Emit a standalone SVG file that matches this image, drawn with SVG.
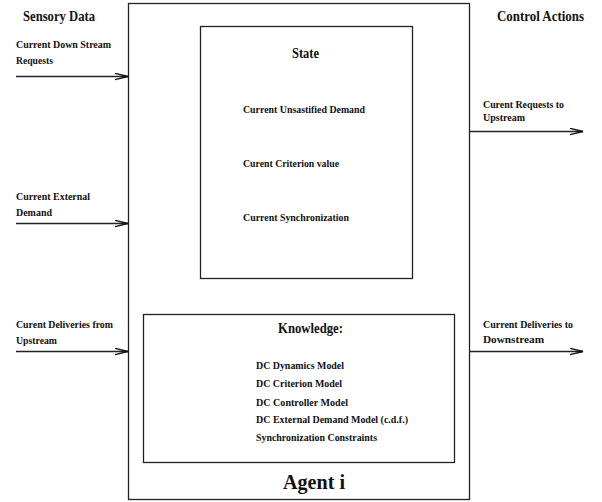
<svg xmlns="http://www.w3.org/2000/svg" width="602" height="502" viewBox="0 0 602 502">
<style>
text{font-family:"Liberation Serif","Times New Roman",serif;font-weight:bold;fill:#111}
.s{font-size:11px}
.h{font-size:15px}
.box{fill:none;stroke:#222;stroke-width:1.3}
.ln{stroke:#222;stroke-width:1.3;fill:none}
</style>
<defs>
<marker id="ah" markerWidth="14" markerHeight="8" refX="13" refY="4" orient="auto" markerUnits="userSpaceOnUse">
<path d="M0,0.8 L13,4 L0,7.2" fill="none" stroke="#111" stroke-width="1.3"/>
</marker>
</defs>
<text class="h" x="23" y="21" textLength="72" lengthAdjust="spacingAndGlyphs">Sensory Data</text>
<text class="h" x="497" y="21" textLength="87" lengthAdjust="spacingAndGlyphs">Control Actions</text>
<g id="agent">
<rect class="box" x="128.5" y="3.5" width="341" height="496"/>
<text x="283" y="489" style="font-size:22px" textLength="62" lengthAdjust="spacingAndGlyphs">Agent i</text>
</g>
<g id="state">
<rect class="box" x="200.5" y="26.5" width="212" height="252"/>
<text class="h" x="292" y="58" textLength="27" lengthAdjust="spacingAndGlyphs">State</text>
<text class="s" x="243" y="113" textLength="122" lengthAdjust="spacingAndGlyphs">Current Unsastified Demand</text>
<text class="s" x="243" y="167" textLength="96" lengthAdjust="spacingAndGlyphs">Curent Criterion value</text>
<text class="s" x="243" y="221" textLength="106" lengthAdjust="spacingAndGlyphs">Current Synchronization</text>
</g>
<g id="knowledge">
<rect class="box" x="143.5" y="314.5" width="311" height="148"/>
<text class="h" x="278" y="333" textLength="65" lengthAdjust="spacingAndGlyphs">Knowledge:</text>
<text class="s" x="256" y="369" textLength="88" lengthAdjust="spacingAndGlyphs">DC Dynamics Model</text>
<text class="s" x="256" y="387" textLength="86" lengthAdjust="spacingAndGlyphs">DC Criterion Model</text>
<text class="s" x="256" y="406" textLength="92" lengthAdjust="spacingAndGlyphs">DC Controller Model</text>
<text class="s" x="256" y="423" textLength="152" lengthAdjust="spacingAndGlyphs">DC External Demand Model (c.d.f.)</text>
<text class="s" x="256" y="441" textLength="121" lengthAdjust="spacingAndGlyphs">Synchronization Constraints</text>
</g>
<g id="connectors">
<line class="ln" x1="16" y1="76.5" x2="128" y2="76.5" marker-end="url(#ah)"/>
<line class="ln" x1="16" y1="223.5" x2="128" y2="223.5" marker-end="url(#ah)"/>
<line class="ln" x1="16" y1="351.5" x2="128" y2="351.5" marker-end="url(#ah)"/>
<line class="ln" x1="469" y1="131.5" x2="583" y2="131.5" marker-end="url(#ah)"/>
<line class="ln" x1="469" y1="351.5" x2="583" y2="351.5" marker-end="url(#ah)"/>
</g>
<g id="labels">
<text class="s" x="16" y="48" textLength="95" lengthAdjust="spacingAndGlyphs">Current Down Stream</text>
<text class="s" x="16" y="64" textLength="37" lengthAdjust="spacingAndGlyphs">Requests</text>
<text class="s" x="16" y="200" textLength="74" lengthAdjust="spacingAndGlyphs">Current External</text>
<text class="s" x="16" y="216" textLength="36" lengthAdjust="spacingAndGlyphs">Demand</text>
<text class="s" x="16" y="328" textLength="97" lengthAdjust="spacingAndGlyphs">Curent Deliveries from</text>
<text class="s" x="16" y="344" textLength="41" lengthAdjust="spacingAndGlyphs">Upstream</text>
<text class="s" x="483" y="108" textLength="81" lengthAdjust="spacingAndGlyphs">Curent Requests to</text>
<text class="s" x="483" y="121" textLength="42" lengthAdjust="spacingAndGlyphs">Upstream</text>
<text class="s" x="483" y="328" textLength="90" lengthAdjust="spacingAndGlyphs">Current Deliveries to</text>
<text class="s" x="483" y="343" textLength="61" lengthAdjust="spacingAndGlyphs">Downstream</text>
</g>
</svg>
